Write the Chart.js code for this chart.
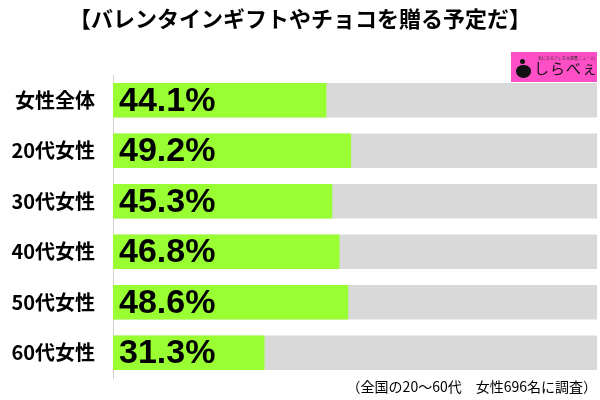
<!DOCTYPE html>
<html>
<head>
<meta charset="utf-8">
<script src="https://cdn.jsdelivr.net/npm/chart.js@4.4.1/dist/chart.umd.min.js"></script>
<style>
  body { margin: 0; background: #fff; }
  #wrap { position: relative; width: 600px; height: 400px; }
  #logo {
    position: absolute; left: 511px; top: 52px; width: 86px; height: 30px;
    background: #ff4fc6; font-family: "Noto Sans CJK JP", sans-serif; white-space: nowrap;
  }
  #logo .tag { position: absolute; left: 27px; top: 3px; font-size: 4px; color: #333; }
  #logo .name { position: absolute; left: 23px; top: 6px; font-size: 15px; line-height: 20px; color: #111; letter-spacing: 1px; }
  #logo .dot { position: absolute; left: 9px; top: 7px; width: 5px; height: 5px; border-radius: 50%; background: #111; }
  #logo .body { position: absolute; left: 5px; top: 13px; width: 15px; height: 13px; border-radius: 45% 45% 50% 50%; background: #111; }
</style>
</head>
<body>
<div id="wrap">
  <canvas id="surveyChart" width="600" height="400"></canvas>
  <div id="logo"><span class="dot"></span><span class="body"></span><span class="tag">気になるアレを大調査ニュース!</span><span class="name">しらべぇ</span></div>
</div>
<script>
const titleText = '【バレンタインギフトやチョコを贈る予定だ】';
const noteText = '（全国の20～60代　女性696名に調査）';
const categories = ['女性全体', '20代女性', '30代女性', '40代女性', '50代女性', '60代女性'];
const percentValues = [44.1, 49.2, 45.3, 46.8, 48.6, 31.3];
const fullValues = [100, 100, 100, 100, 100, 100];

// titles, footnote and the big value labels inside the bars
const textPlugin = {
    id: 'textPlugin',
    afterDatasetsDraw(chart) {
        const ctx = chart.ctx;
        ctx.save();
        ctx.fillStyle = '#000';
        ctx.textBaseline = 'middle';

        ctx.font = 'bold 22px "Noto Sans CJK JP"';
        ctx.textAlign = 'center';
        ctx.fillText(titleText, 300, 19);

        ctx.font = '14px "Noto Sans CJK JP"';
        ctx.textAlign = 'right';
        ctx.fillText(noteText, 597, 387);

        ctx.font = 'bold 34px "Liberation Sans"';
        ctx.textAlign = 'left';
        chart.getDatasetMeta(0).data.forEach(function(bar, i) {
            ctx.fillText(percentValues[i].toFixed(1) + '%', bar.base + 6, bar.y + 1);
        });
        ctx.restore();
    }
};

const ctxSurvey = document.getElementById('surveyChart').getContext('2d');
const surveyChart = new Chart(ctxSurvey, {
    type: 'bar',
    data: {
        labels: categories,
        datasets: [{
            data: percentValues,
            backgroundColor: '#99ff33',
            grouped: false,
            barPercentage: 0.68,
            categoryPercentage: 1
        }, {
            data: fullValues,
            backgroundColor: '#d9d9d9',
            grouped: false,
            barPercentage: 0.68,
            categoryPercentage: 1
        }]
    },
    options: {
        indexAxis: 'y',
        responsive: false,
        animation: false,
        layout: { padding: { top: 75, bottom: 13, left: 0, right: 3 } },
        scales: {
            x: { display: false, min: 0, max: 100 },
            y: {
                grid: { display: false },
                border: { display: true, color: '#d0d0d0' },
                afterFit: function(scale) { scale.width = 113; },
                ticks: {
                    color: '#000',
                    padding: 10,
                    font: { family: 'Noto Sans CJK JP', weight: 'bold', size: 20 }
                }
            }
        },
        plugins: {
            legend: { display: false },
            tooltip: { enabled: false }
        }
    },
    plugins: [textPlugin]
});
</script>
</body>
</html>
